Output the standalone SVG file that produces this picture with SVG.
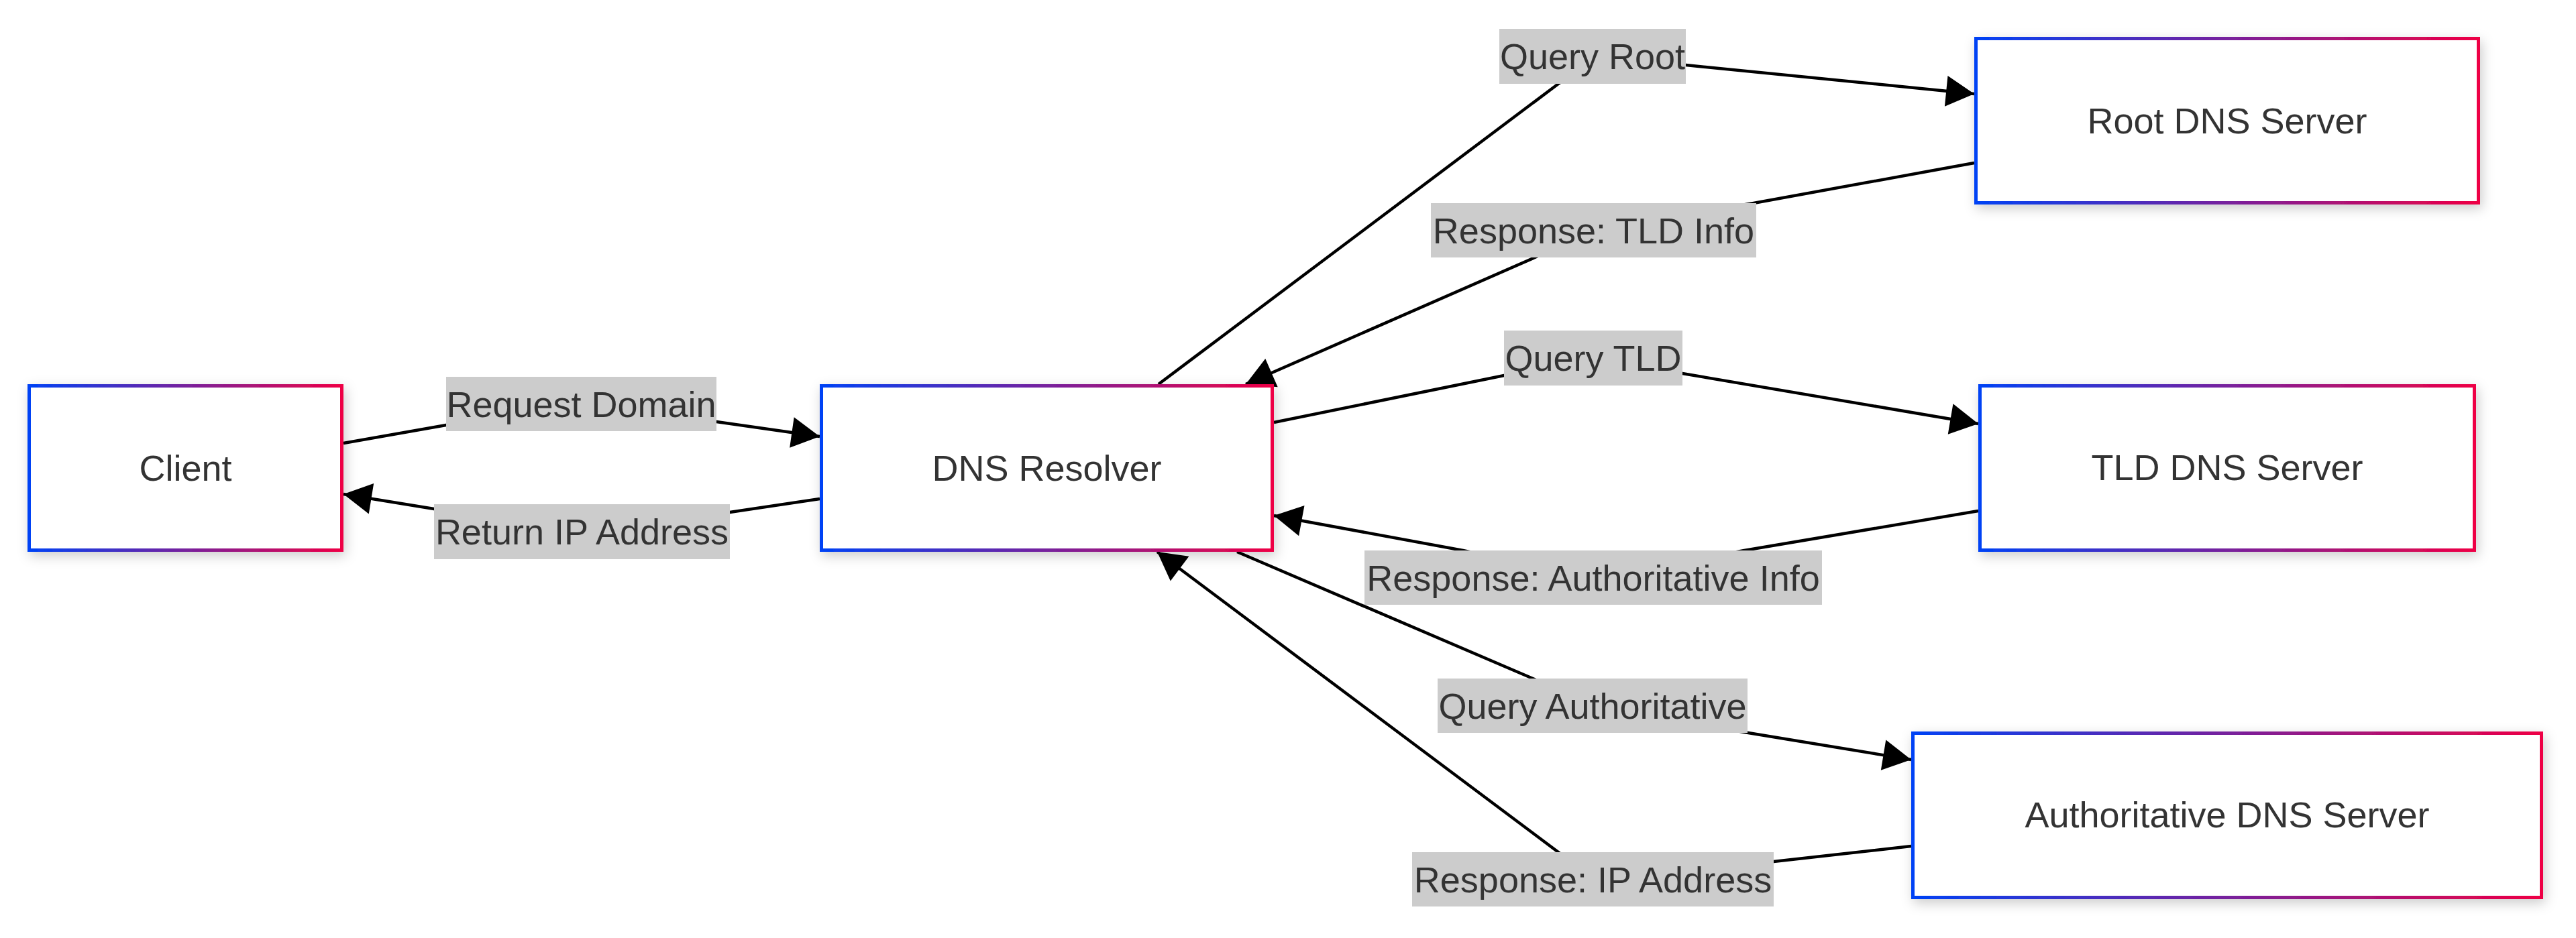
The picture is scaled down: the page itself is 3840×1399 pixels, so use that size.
<svg xmlns="http://www.w3.org/2000/svg" width="3840" height="1399" viewBox="0 0 3840 1399">
<defs>
<linearGradient id="border" x1="0" y1="0" x2="1" y2="0">
<stop offset="0" stop-color="#0042f5"/>
<stop offset="1" stop-color="#ee0045"/>
</linearGradient>
<filter id="shadow" x="-10%" y="-20%" width="120%" height="150%">
<feDropShadow dx="3" dy="6" stdDeviation="9" flood-color="#000" flood-opacity="0.2"/>
</filter>
<marker id="arrow" markerUnits="userSpaceOnUse" markerWidth="44" markerHeight="46" viewBox="0 0 44 46" refX="42" refY="23" orient="auto" overflow="visible">
<path d="M0,0 L42,23 L0,46 z" fill="#000"/>
</marker>
<style>
.node rect{fill:#fff;stroke:url(#border);stroke-width:5;filter:url(#shadow)}
.node text{font-family:"Liberation Sans",Arial,sans-serif;font-size:54px;fill:#333;text-anchor:middle}
.edge{fill:none;stroke:#000;stroke-width:4.5;marker-end:url(#arrow)}
.lbl rect{fill:#cccccc}
.lbl text{font-family:"Liberation Sans",Arial,sans-serif;font-size:54px;fill:#333;text-anchor:middle}
</style>
</defs>
<rect width="3840" height="1399" fill="#fff"/>
<g id="connectors">
<path class="edge" d="M512,661 L665,634 Q866,598 1068,629 L1222,651"/>
<path class="edge" d="M1222,744 L1088,764 Q867,800 647,759 L512,737"/>
<path class="edge" d="M1727,573 L2323,125 Q2374,87 2513,97 L2943,140"/>
<path class="edge" d="M2943,243 L2614,303 L2375,343 L2288,384 L1857,573"/>
<path class="edge" d="M1899,630 L2242,560 L2375,540 L2508,557 L2949,632"/>
<path class="edge" d="M2949,762 L2600,821 L2375,862 L2181,821 L1899,769"/>
<path class="edge" d="M1844,823 L2285,1012 L2374,1052 L2600,1092 L2849,1133"/>
<path class="edge" d="M2849,1262 L2644,1285 L2374,1311 L2323,1271 L1725,823"/>
</g>
<g id="edge-labels">
<g class="lbl"><rect x="665" y="562" width="403" height="81"/><text x="866.5" y="621.5">Request Domain</text></g>
<g class="lbl"><rect x="647" y="752" width="441" height="82"/><text x="867.5" y="812">Return IP Address</text></g>
<g class="lbl"><rect x="2235" y="43" width="278" height="82"/><text x="2374" y="103">Query Root</text></g>
<g class="lbl"><rect x="2133" y="303" width="485" height="81"/><text x="2375.5" y="362.5">Response: TLD Info</text></g>
<g class="lbl"><rect x="2242" y="493" width="266" height="82"/><text x="2375" y="553">Query TLD</text></g>
<g class="lbl"><rect x="2034" y="821" width="682" height="81"/><text x="2375" y="880.5">Response: Authoritative Info</text></g>
<g class="lbl"><rect x="2143" y="1012" width="462" height="81"/><text x="2374" y="1071.5">Query Authoritative</text></g>
<g class="lbl"><rect x="2105" y="1271" width="539" height="81"/><text x="2374.5" y="1330.5">Response: IP Address</text></g>
</g>
<g id="node-client" class="node"><rect x="43.5" y="575.5" width="466" height="245"/><text x="276.5" y="717">Client</text></g>
<g id="node-resolver" class="node"><rect x="1224.5" y="575.5" width="672" height="245"/><text x="1560.5" y="717">DNS Resolver</text></g>
<g id="node-root" class="node"><rect x="2945.5" y="57.5" width="749" height="245"/><text x="3320" y="199">Root DNS Server</text></g>
<g id="node-tld" class="node"><rect x="2951.5" y="575.5" width="737" height="245"/><text x="3320" y="716">TLD DNS Server</text></g>
<g id="node-auth" class="node"><rect x="2851.5" y="1093.5" width="937" height="245"/><text x="3320" y="1234">Authoritative DNS Server</text></g>
</svg>
